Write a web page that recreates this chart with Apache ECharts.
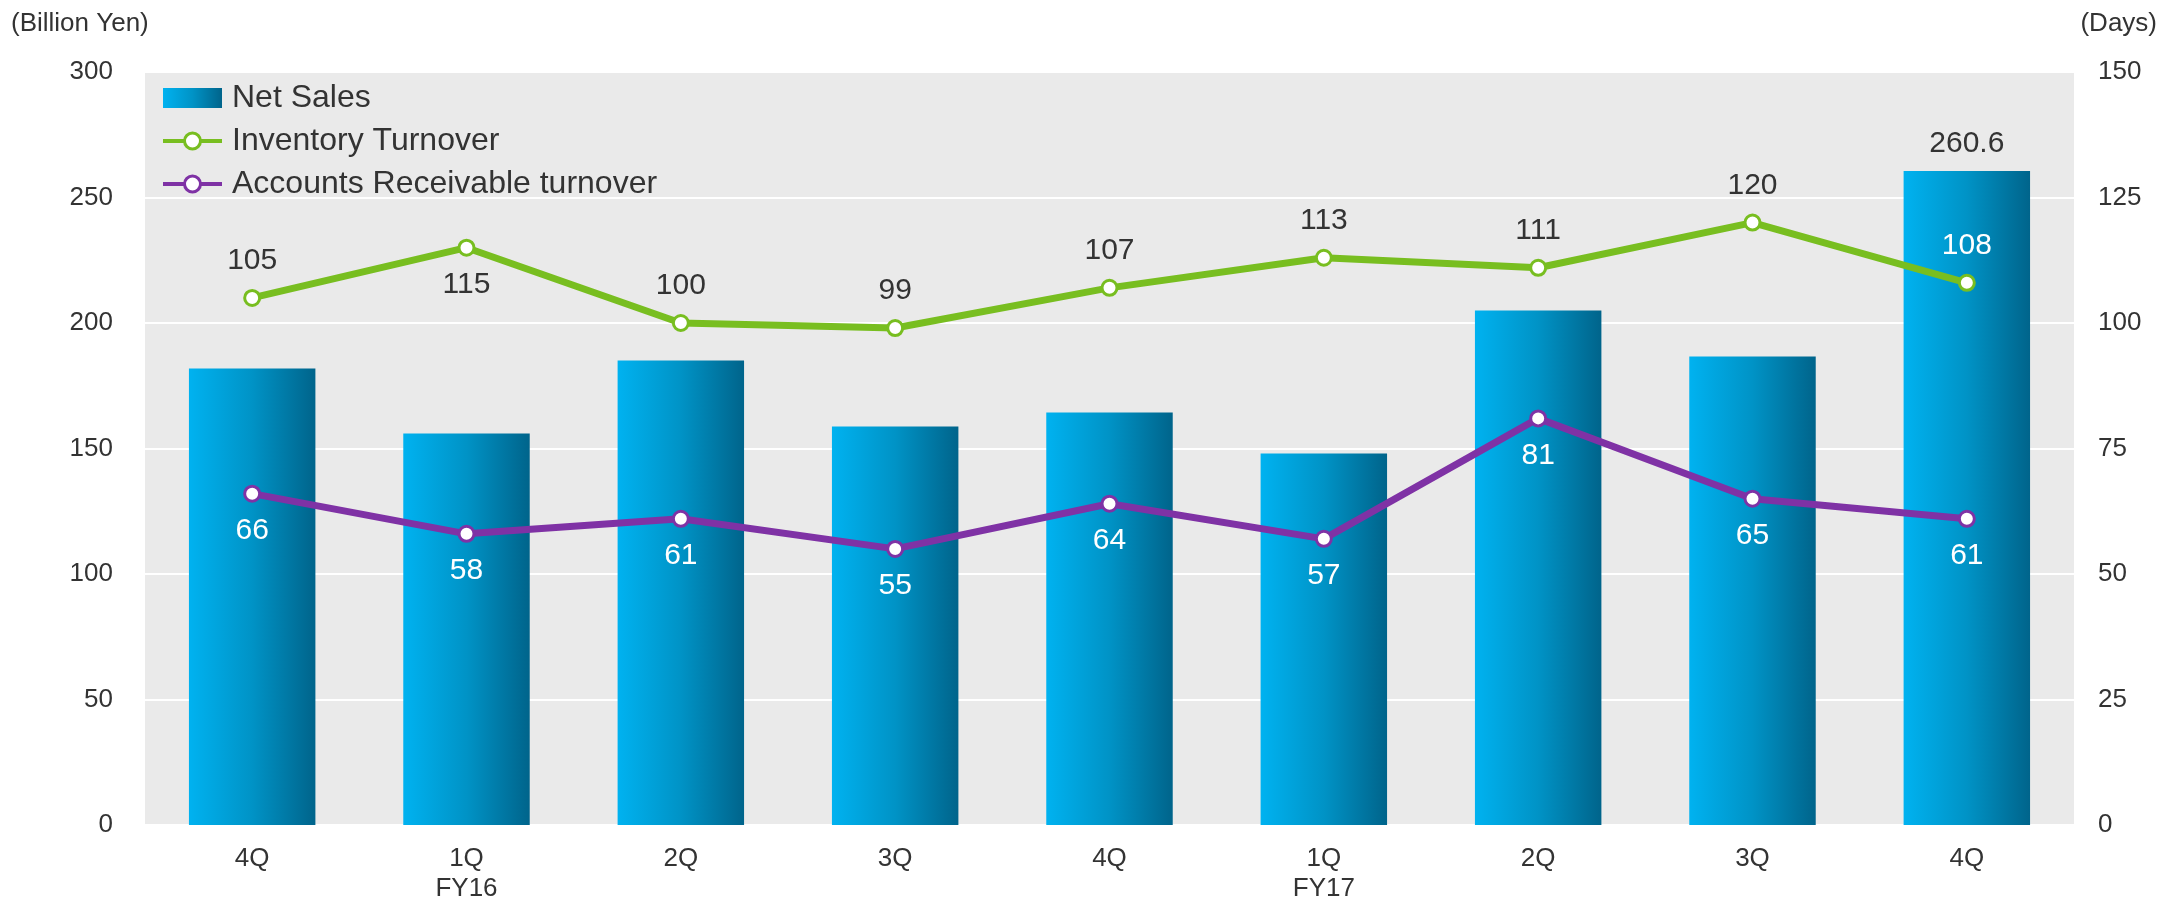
<!DOCTYPE html>
<html>
<head>
<meta charset="utf-8">
<script src="https://cdn.jsdelivr.net/npm/echarts@6/dist/echarts.min.js"></script>
<style>
  html, body { margin: 0; padding: 0; background: #ffffff; }
  #chart { width: 2164px; height: 900px; }
</style>
</head>
<body>
<div id="chart"></div>
<script>
// Quarterly categories (FY15 4Q through FY17 4Q)
const categories = ['4Q', '1Q\nFY16', '2Q', '3Q', '4Q', '1Q\nFY17', '2Q', '3Q', '4Q'];

// Net sales, billion yen
const netSales = [181.9, 156.0, 185.1, 158.8, 164.3, 148.0, 205.0, 186.7, 260.6];

// Turnover periods, days
const inventoryTurnover = [105, 115, 100, 99, 107, 113, 111, 120, 108];
const receivableTurnover = [66, 58, 61, 55, 64, 57, 81, 65, 61];

// Axis scales
const salesAxis = { min: 0, max: 300, interval: 50 };
const daysAxis = { min: 0, max: 150, interval: 25 };

const FONT = '"Liberation Sans", Arial, sans-serif';
const TEXT = '#333333';
const GREEN = '#78BE20';
const PURPLE = '#7F32A5';

const chart = echarts.init(document.getElementById('chart'));

const barGradient = new echarts.graphic.LinearGradient(0, 0, 1, 0, [
  { offset: 0, color: '#00B2F0' },
  { offset: 0.5, color: '#0093C6' },
  { offset: 1, color: '#00648B' }
]);

// Only the latest quarter carries its net-sales value
const salesData = netSales.map((v, i) => ({
  value: v,
  label: { show: i === netSales.length - 1 }
}));

// Inventory labels sit above the points; one dips below, the last sits on the bar
const inventoryData = inventoryTurnover.map((v, i) => {
  const item = { value: v };
  if (i === 1) item.label = { position: 'bottom' };
  if (i === inventoryTurnover.length - 1) item.label = { color: '#ffffff' };
  return item;
});

const lineSeries = (name, data, color, labelPos, labelColor) => ({
  name: name,
  type: 'line',
  yAxisIndex: 1,
  data: data,
  z: 5,
  symbol: 'circle',
  symbolSize: 15,
  lineStyle: { color: color, width: 7 },
  itemStyle: { color: '#ffffff', borderColor: color, borderWidth: 3 },
  label: {
    show: true,
    position: labelPos,
    distance: 13,
    fontSize: 30,
    fontFamily: FONT,
    color: labelColor
  },
  emphasis: { disabled: true }
});

chart.setOption({
  animation: false,
  textStyle: { fontFamily: FONT, color: TEXT },
  grid: {
    left: 145, right: 90, top: 72, bottom: 75,
    outerBoundsMode: 'none',
    show: true, backgroundColor: '#EAEAEA', borderWidth: 0
  },
  legend: {
    orient: 'vertical',
    left: 161,
    top: 82,
    padding: 0,
    itemWidth: 59,
    itemHeight: 20,
    itemGap: 11,
    lineStyle: { width: 4 },
    itemStyle: { borderWidth: 3 },
    textStyle: { fontSize: 32, color: TEXT, fontFamily: FONT, padding: [0, 0, 0, 5] },
    data: [
      { name: 'Net Sales', icon: 'rect', itemStyle: { borderWidth: 0 } },
      'Inventory Turnover',
      'Accounts Receivable turnover'
    ]
  },
  graphic: [
    {
      type: 'text', left: 11, top: 11,
      style: { text: '(Billion Yen)', fontSize: 26, fontFamily: FONT, fill: TEXT }
    },
    {
      type: 'text', right: 7, top: 11,
      style: { text: '(Days)', fontSize: 26, fontFamily: FONT, fill: TEXT }
    }
  ],
  xAxis: {
    type: 'category',
    data: categories,
    axisLine: { show: false },
    axisTick: { show: false },
    axisLabel: { fontSize: 26, lineHeight: 30, color: TEXT, margin: 19, fontFamily: FONT }
  },
  yAxis: [
    {
      type: 'value',
      min: salesAxis.min, max: salesAxis.max, interval: salesAxis.interval,
      axisLine: { show: false },
      axisTick: { show: false },
      axisLabel: { fontSize: 26, color: TEXT, margin: 32, fontFamily: FONT },
      splitLine: { show: true, lineStyle: { color: '#ffffff', width: 2 } }
    },
    {
      type: 'value',
      min: daysAxis.min, max: daysAxis.max, interval: daysAxis.interval,
      axisLine: { show: false },
      axisTick: { show: false },
      axisLabel: { fontSize: 26, color: TEXT, margin: 24, fontFamily: FONT },
      splitLine: { show: false }
    }
  ],
  series: [
    {
      name: 'Net Sales',
      type: 'bar',
      data: salesData,
      barWidth: '59%',
      itemStyle: { color: barGradient },
      label: {
        position: 'top',
        distance: 12,
        fontSize: 30,
        fontFamily: FONT,
        color: TEXT,
        formatter: (p) => p.value.toFixed(1)
      },
      emphasis: { disabled: true }
    },
    lineSeries('Inventory Turnover', inventoryData, GREEN, 'top', TEXT),
    lineSeries('Accounts Receivable turnover', receivableTurnover, PURPLE, 'bottom', '#ffffff')
  ]
});
</script>
</body>
</html>
